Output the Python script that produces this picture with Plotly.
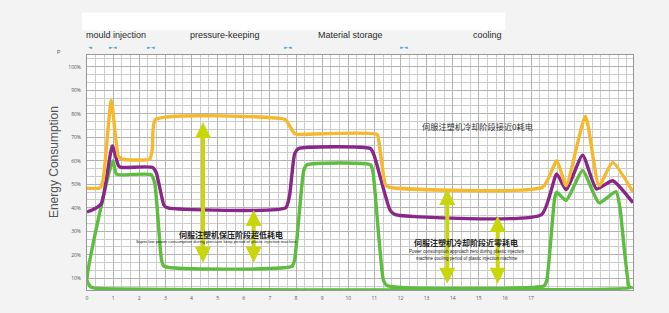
import plotly.graph_objects as go

# ---------------- data ----------------
x_ticks = list(range(18))
x_tick_labels = [str(v) for v in x_ticks]
y_ticks = [10, 20, 30, 40, 50, 60, 70, 80, 90, 100]
y_tick_labels = [f"{v}%" for v in y_ticks]

phase_names = ["mould injection", "pressure-keeping", "Material storage", "cooling"]
phase_label_pos = [-0.006, 0.185, 0.419, 0.703]  # paper x of each phase label
phase_marks_x = [0.1, 0.99, 2.44, 7.68, 12.15]
phase_marks_txt = ["◄", "►◄", "►◄", "►◄", "►◄"]

orange_x = [0, 0.5, 0.62, 0.93, 1.2, 1.35, 2.4, 2.5, 2.62, 7.6, 7.72, 7.95, 8.05,
            11.1, 11.2, 11.42, 11.55, 17.45, 17.98, 18.34, 19.08, 19.6, 20.12, 20.9]
orange_y = [48.3, 48.5, 52, 85.7, 62, 60.7, 60.7, 65, 77.5, 77.5, 75.5, 71.5, 71.2,
            71.2, 66, 50, 48.8, 48.8, 60, 49.4, 79, 49.4, 59.3, 46.6]

purple_x = [0, 0.2, 0.55, 0.97, 1.2, 1.3, 2.5, 2.65, 2.95, 3.1, 7.6, 7.75, 7.95, 8.1,
            10.85, 11.0, 11.6, 11.8, 17.4, 17.98, 18.34, 18.97, 19.5, 20.12, 20.9]
purple_y = [38.2, 39, 41.7, 66.3, 58, 57.2, 57.2, 55, 41, 39.9, 39.9, 45, 63, 65.2,
            65.2, 62, 39, 37.1, 37.1, 54.4, 47.7, 62.4, 48, 51.5, 42.1]

green_x = [0, 0.99, 1.12, 1.3, 2.46, 2.6, 2.85, 2.95, 7.85, 7.95, 8.3, 8.42,
           10.85, 10.95, 11.35, 11.5, 17.5, 17.6, 17.9, 17.98, 18.34, 18.97, 19.6,
           20.25, 20.4, 20.75, 20.85, 0.3, 0.15, 0]
green_y = [9, 60, 54.4, 54, 54, 50, 18, 15.1, 15.1, 18, 56, 58.3,
           58.3, 55, 9, 6.8, 6.8, 9, 44, 46.6, 43.1, 55.8, 42.1,
           46.9, 40, 6.5, 5.8, 5.8, 6.2, 9]

# double arrows: x, top value, bottom value
arrow_x = [4.44, 6.38, 13.79, 15.72]
arrow_top = [76.5, 39, 48, 36.5]
arrow_bottom = [16, 16, 7, 7]

mid_cn = "伺服注塑机保压阶段超低耗电"
mid_en = "Super low power consumption during pressure keep period of plastic injection machine"
top_cn = "伺服注塑机冷却阶段接近0耗电"
low_cn = "伺服注塑机冷却阶段近零耗电"
low_en1 = "Power consumption approach zero during plastic injection"
low_en2 = "machine cooling period of plastic injection machine"

# ---------------- figure ----------------
fig = go.Figure()
fig.add_trace(go.Scatter(x=green_x, y=green_y, mode="lines",
                         line=dict(color="#5cbd3e", width=3.4, shape="spline", smoothing=0.5),
                         hoverinfo="skip", showlegend=False))
fig.add_trace(go.Scatter(x=purple_x, y=purple_y, mode="lines",
                         line=dict(color="#8a2589", width=3.4, shape="spline", smoothing=0.5),
                         hoverinfo="skip", showlegend=False))
fig.add_trace(go.Scatter(x=orange_x, y=orange_y, mode="lines",
                         line=dict(color="#f6b82c", width=3.4, shape="spline", smoothing=0.5),
                         hoverinfo="skip", showlegend=False))

ann = []
for xv, yt, yb in zip(arrow_x, arrow_top, arrow_bottom):
    ann.append(dict(x=xv, y=yt, ax=xv, ay=yb, xref="x", yref="y", axref="x", ayref="y",
                    showarrow=True, arrowhead=2, arrowside="end+start", arrowsize=0.8,
                    arrowwidth=4, arrowcolor="#c9d60a", text=""))

small = dict(family="Liberation Sans, Arial, sans-serif", color="#222")
cjk = "Noto Sans CJK SC"
ann += [
    dict(x=5.52, y=28.8, xref="x", yref="y", text=f"<b>{mid_cn}</b>", showarrow=False,
         font=dict(family=cjk, size=8, color="#222")),
    dict(x=4.94, y=25.8, xref="x", yref="y", text=mid_en, showarrow=False,
         font=dict(size=4.2, **small)),
    dict(x=14.93, y=74.6, xref="x", yref="y", text=top_cn, showarrow=False,
         font=dict(family=cjk, size=8.2, color="#333")),
    dict(x=14.49, y=25.1, xref="x", yref="y", text=f"<b>{low_cn}</b>", showarrow=False,
         font=dict(family=cjk, size=8, color="#222")),
    dict(x=14.55, y=21.3, xref="x", yref="y", text=low_en1, showarrow=False,
         font=dict(size=4.5, **small)),
    dict(x=14.55, y=18.2, xref="x", yref="y", text=low_en2, showarrow=False,
         font=dict(size=4.5, **small)),
]
for name, px in zip(phase_names, phase_label_pos):
    ann.append(dict(x=px, y=1.084, xref="paper", yref="paper", text=name, showarrow=False,
                    xanchor="left", yanchor="middle",
                    font=dict(family="Liberation Sans, Arial, sans-serif", size=9, color="#2a2a2a")))
for mx, mt in zip(phase_marks_x, phase_marks_txt):
    ann.append(dict(x=mx, y=1.034, xref="x", yref="paper", text=mt, showarrow=False,
                    yanchor="middle",
                    font=dict(family="DejaVu Sans", size=5, color="#4aa8d8")))
ann.append(dict(x=-0.0586, y=1.034, xref="paper", yref="paper", text="P", showarrow=False,
                font=dict(size=5, family="Liberation Sans, Arial", color="#555")))
ann.append(dict(x=-0.077, y=0.544, xref="paper", yref="paper", text="Energy Consumption",
                showarrow=False, textangle=-90,
                font=dict(family="Liberation Sans, Arial, sans-serif", size=12, color="#555")))

fig.update_layout(
    width=669, height=313,
    margin=dict(l=87, r=36, t=55, b=21),
    paper_bgcolor="#f3f3f3",
    plot_bgcolor="#ffffff",
    annotations=ann,
    shapes=[dict(type="rect", xref="paper", yref="paper", x0=-0.009, x1=0.766,
                 y0=1.105, y1=1.181, fillcolor="#ffffff", line=dict(width=0), layer="below")],
)
fig.update_xaxes(range=[0, 20.9], tickvals=x_ticks, ticktext=x_tick_labels,
                 showgrid=True, gridcolor="#b3b3b3", gridwidth=1,
                 minor=dict(dtick=1/3, tick0=0, showgrid=True, gridcolor="#cdcdcd", gridwidth=1),
                 showline=True, linecolor="#999", mirror=True, zeroline=False,
                 ticks="", tickfont=dict(size=5, color="#555"), ticklabelstandoff=3)
fig.update_yaxes(range=[5, 105], tickvals=y_ticks, ticktext=y_tick_labels,
                 showgrid=True, gridcolor="#b3b3b3", gridwidth=1,
                 minor=dict(dtick=10/3, tick0=0, showgrid=True, gridcolor="#cdcdcd", gridwidth=1),
                 showline=True, linecolor="#999", mirror=True, zeroline=False,
                 ticks="", tickfont=dict(size=5, color="#555"), ticklabelstandoff=4)

fig.write_html("out.html", config={"displayModeBar": False},
               post_script="document.body.style.margin='0';document.body.style.background='#f3f3f3';")
